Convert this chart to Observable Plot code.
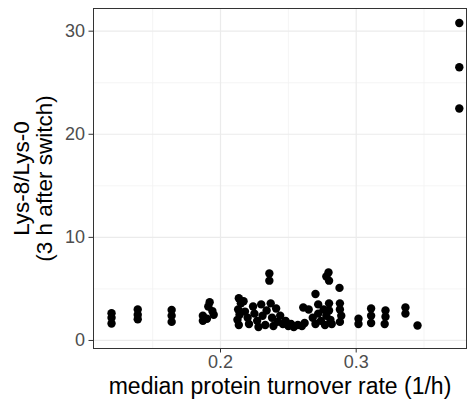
<!DOCTYPE html>
<html>
<head>
<meta charset="utf-8">
<script src="https://cdn.jsdelivr.net/npm/d3@7"></script>
<script src="https://cdn.jsdelivr.net/npm/@observablehq/plot@0.6"></script>
<style>
  html, body { margin: 0; padding: 0; background: #fff; }
</style>
</head>
<body>
<div id="chart"></div>
<script>
// median protein turnover rate (1/h)
const turnover = [
  0.1197, 0.1197, 0.1197,
  0.139, 0.139, 0.139,
  0.164, 0.164, 0.164,
  0.187, 0.187, 0.190, 0.192, 0.194, 0.191, 0.195,
  0.2135, 0.2150, 0.2130, 0.2140, 0.2125, 0.2135, 0.2170, 0.2180, 0.2200, 0.2210,
  0.2240, 0.2250, 0.2270, 0.2280, 0.2300, 0.2310, 0.2330, 0.2340, 0.2360, 0.2360,
  0.2370, 0.2380, 0.2390, 0.2410, 0.2420, 0.2440, 0.2460, 0.2480, 0.2500, 0.2520,
  0.2540, 0.2570, 0.2600, 0.2620,
  0.2650, 0.2610, 0.2680, 0.2700, 0.2700, 0.2720, 0.2720, 0.2740, 0.2760, 0.2770,
  0.2780, 0.2796, 0.2780, 0.2800, 0.2800, 0.2800, 0.2810, 0.2820, 0.2877, 0.2880,
  0.2880, 0.2890, 0.2880,
  0.3017, 0.3017, 0.311, 0.311, 0.311, 0.3216, 0.3216, 0.321, 0.3363, 0.3363, 0.3452,
  0.376, 0.376, 0.376
];
// Lys-8/Lys-0 ratio, 3 h after switch
const ratio = [
  2.65, 2.2, 1.65,
  3.0, 2.5, 2.05,
  2.95, 2.4, 1.8,
  2.4, 1.9, 2.1, 3.7, 2.85, 3.3, 2.5,
  4.1, 3.6, 3.0, 2.5, 2.0, 1.5, 3.8, 2.8, 2.2, 1.6,
  3.3, 2.6, 1.9, 1.3, 3.5, 2.4, 1.5, 2.9, 6.5, 5.8,
  3.6, 2.2, 1.4, 3.1, 1.8, 2.4, 1.6, 1.9, 1.4, 1.6,
  1.3, 1.5, 1.4, 1.7,
  3.0, 3.2, 2.2, 1.6, 4.5, 3.5, 2.6, 1.9, 3.0, 1.5,
  2.4, 6.6, 6.2, 5.8, 3.6, 2.9, 2.0, 1.6, 5.1, 3.6,
  3.0, 2.4, 1.8,
  2.1, 1.6, 3.1, 2.4, 1.7, 2.9, 2.3, 1.6, 3.2, 2.6, 1.45,
  30.8, 26.5, 22.5
];
const xTicks = [0.2, 0.3];
const xMinor = [0.15, 0.25, 0.35];
const yTicks = [0, 10, 20, 30];
const yMinor = [5, 15, 25];
const xTitle = "median protein turnover rate (1/h)";
const yTitle = "Lys-8/Lys-0\n(3 h after switch)";

const data = turnover.map((t, i) => ({turnover: t, ratio: ratio[i]}));

const chart = Plot.plot({
  width: 473,
  height: 401,
  marginLeft: 93,
  marginRight: 7,
  marginTop: 8,
  marginBottom: 53,
  style: {fontFamily: "'Liberation Sans', Arial, sans-serif", fontSize: "18px", background: "#fff"},
  x: {domain: [0.1064, 0.3813]},
  y: {domain: [-0.78, 32.2]},
  marks: [
    Plot.ruleX(xMinor, {stroke: "#f3f3f3", strokeWidth: 0.8}),
    Plot.ruleY(yMinor, {stroke: "#f3f3f3", strokeWidth: 0.8}),
    Plot.ruleX(xTicks, {stroke: "#ebebeb", strokeWidth: 1.2}),
    Plot.ruleY(yTicks, {stroke: "#ebebeb", strokeWidth: 1.2}),
    Plot.dot(data, {x: "turnover", y: "ratio", r: 4.2, fill: "black", stroke: "none"}),
    Plot.frame({stroke: "#333", strokeWidth: 1}),
    Plot.axisX(xTicks, {tickSize: 4.5, tickPadding: 2, stroke: "#333", color: "#4d4d4d", fontSize: 18, tickFormat: d => d.toFixed(1), label: null}),
    Plot.axisY(yTicks, {tickSize: 4.5, tickPadding: 4, stroke: "#333", color: "#4d4d4d", fontSize: 18, label: null}),
    Plot.text([xTitle], {frameAnchor: "bottom", dy: 38, fontSize: 23, fill: "black", lineAnchor: "middle", textAnchor: "middle"}),
    Plot.text([yTitle], {frameAnchor: "left", dx: -60, rotate: -90, fontSize: 22.5, lineHeight: 1.0, fill: "black", lineAnchor: "middle", textAnchor: "middle"})
  ]
});
document.getElementById("chart").appendChild(chart);
</script>
</body>
</html>
